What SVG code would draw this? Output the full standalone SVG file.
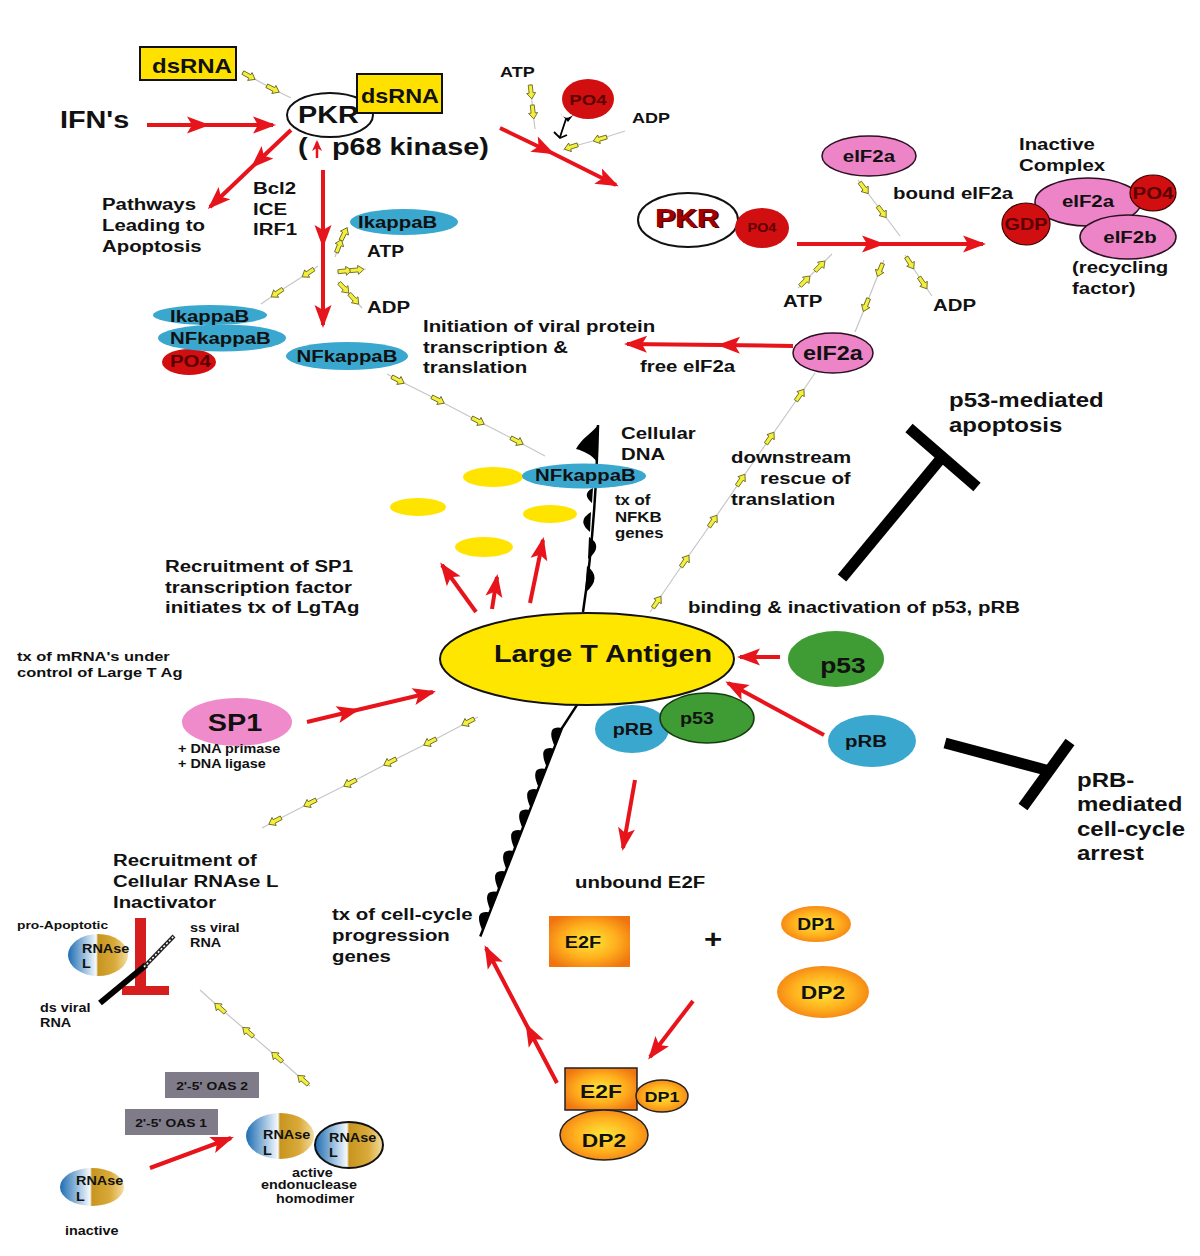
<svg xmlns="http://www.w3.org/2000/svg" width="1200" height="1256" viewBox="0 0 1200 1256">
<defs>
<style>
.t{font-family:"Liberation Sans",Arial,Helvetica,sans-serif;font-weight:bold;fill:#111;transform-box:fill-box;transform-origin:0 0;transform:scaleX(1.2)}
.c{text-anchor:middle;transform-origin:50% 50%}
.dr{fill:#5C0000}
.pkt{fill:#A00000}
.ra{fill:none;stroke:#E8141B;stroke-width:4;marker-end:url(#rh);marker-mid:url(#rh)}
.dl{fill:none;stroke:#C6C6C6;stroke-width:1.2;marker-mid:url(#ya)}
.tb{fill:none;stroke:#000;stroke-width:11}
.blue{fill:#3AA7CF}
.pink{fill:#EE84C8;stroke:#2B1022;stroke-width:1.5}
.pink2{fill:#F08BCB}
.red{fill:#D10F10}
.grn{fill:#3F9B33}
.yel{fill:#FFE400}
.rn{fill:url(#rng)}
.og{fill:url(#org)}
.oas{fill:#7F7B88}
</style>
<marker id="rh" viewBox="-22 -10 26 20" refX="0" refY="0" markerWidth="26" markerHeight="20" markerUnits="userSpaceOnUse" orient="auto"><path d="M3,0 L-20,-8.5 L-15,0 L-20,8.5 Z" fill="#E8141B"/></marker>
<marker id="rhs" viewBox="-12 -6 14 12" refX="0" refY="0" markerWidth="14" markerHeight="12" markerUnits="userSpaceOnUse" orient="auto"><path d="M2,0 L-9,-5 L-6,0 L-9,5 Z" fill="#E8141B"/></marker>
<marker id="ya" viewBox="-8 -5 16 10" refX="0" refY="0" markerWidth="16" markerHeight="10" markerUnits="userSpaceOnUse" orient="auto"><path d="M7,0 L1,-4.5 L1,-2 L-7,-2 L-7,2 L1,2 L1,4.5 Z" fill="#F3EF3C" stroke="#5E5E1E" stroke-width="0.8"/></marker>
<linearGradient id="rng" x1="0" y1="0" x2="1" y2="0"><stop offset="0" stop-color="#1E6DB3"/><stop offset="0.47" stop-color="#F5F9FD"/><stop offset="0.5" stop-color="#C7951F"/><stop offset="0.78" stop-color="#D9AA3A"/><stop offset="1" stop-color="#F4DDA0"/></linearGradient>
<radialGradient id="org" cx="0.5" cy="0.5" r="0.6"><stop offset="0" stop-color="#FFE83A"/><stop offset="0.55" stop-color="#FFB01E"/><stop offset="1" stop-color="#F07510"/></radialGradient>
</defs>
<rect width="1200" height="1256" fill="#fff"/>

<g id="dna">
<path d="M598,425 C597,470 594,540 583,612" fill="none" stroke="#000" stroke-width="2.5"/>
<path d="M598,425 C592,433 581,439 576,449 C584,451 592,455 597,462 Z" fill="#000"/>
<path d="M593,488 Q581,494 592,503 Z M591,512 Q576,521 590,532 Z M589,537 Q604,546 588,559 Z M587,566 Q603,578 585,593 Z" fill="#000"/>
<g transform="translate(562,728) rotate(21.4)">
<path d="M5.6,-27 L0,0 L0,224" fill="none" stroke="#000" stroke-width="2.5"/>
<path d="M0,0 q-17,3 0,20 z M0,22 q-17,3 0,20 z M0,44 q-17,3 0,20 z M0,66 q-17,3 0,20 z M0,88 q-17,3 0,20 z M0,110 q-17,3 0,20 z M0,132 q-17,3 0,20 z M0,154 q-17,3 0,20 z M0,176 q-17,3 0,20 z M0,198 q-17,3 0,20 z" fill="#000"/>
</g>
</g>

<g id="connectors">
<polyline class="ra" points="147,125 207,125 273,125"/>
<polyline class="ra" points="291,130 253,166 210,207"/>
<polyline class="ra" points="323,170 323,245 323,325"/>
<polyline class="ra" points="500,128 552,153 616,185"/>
<polyline class="ra" points="797,244 882,244 983,244"/>
<polyline class="ra" points="793,346 720,345 627,344"/>
<polyline class="ra" points="476,612 442,565"/>
<polyline class="ra" points="492,609 497,577"/>
<polyline class="ra" points="530,603 543,540"/>
<polyline class="ra" points="307,722 357,710 433,692"/>
<polyline class="ra" points="780,657 740,657"/>
<polyline class="ra" points="824,735 728,683"/>
<polyline class="ra" points="635,780 623,848"/>
<polyline class="ra" points="693,1001 650,1057"/>
<polyline class="ra" points="557,1083 527,1026 486,948"/>
<polyline class="ra" points="150,1168 231,1138"/>
<line x1="317" y1="158" x2="317" y2="142" stroke="#E8141B" stroke-width="2.5" marker-end="url(#rhs)"/>

<polyline class="dl" points="242,72 249,76 273,89 291,98"/>
<polyline class="dl" points="530,84 531,92 533,112 535,129"/>
<polyline class="dl" points="625,131 600,139 571,147 563,150"/>
<polyline class="dl" points="335,257 339,246 344,234 348,227"/>
<polyline class="dl" points="337,272 345,271 357,270 366,269"/>
<polyline class="dl" points="338,282 344,288 354,299 362,308"/>
<polyline class="dl" points="318,266 308,273 277,293 261,304"/>
<polyline class="dl" points="387,374 398,380 438,400 478,421 517,441 545,456"/>
<polyline class="dl" points="858,180 864,188 882,212 900,236"/>
<polyline class="dl" points="798,288 805,281 820,266 832,254"/>
<polyline class="dl" points="884,260 880,270 866,305 855,332"/>
<polyline class="dl" points="905,255 910,263 923,283 932,296"/>
<polyline class="dl" points="650,612 657,602 685,561 713,521 741,480 770,438 800,395 815,373"/>
<polyline class="dl" points="478,717 468,722 430,742 390,762 350,783 310,803 275,821 262,828"/>
<polyline class="dl" points="310,1086 303,1080 277,1057 248,1032 220,1008 200,990"/>

<path d="M566,119 L560,137" stroke="#000" stroke-width="1.8" fill="none"/>
<path d="M560,113 Q566,122 574,114 L568,122 Z" fill="#000"/>
<path d="M554,132 L560,138 L567,135" stroke="#000" stroke-width="1.8" fill="none"/>

<line class="tb" x1="842" y1="578" x2="943" y2="456"/>
<line class="tb" x1="909" y1="428" x2="977" y2="487"/>
<line class="tb" x1="945" y1="743" x2="1046" y2="770"/>
<line class="tb" x1="1070" y1="742" x2="1023" y2="807"/>
</g>

<g id="dsRNA1"><rect x="140" y="47" width="96" height="33" fill="#FFE100" stroke="#111" stroke-width="2"/><text class="t" x="152" y="73" font-size="20">dsRNA</text></g>
<g id="PKR"><ellipse cx="330" cy="115" rx="43" ry="22" fill="#fff" stroke="#111" stroke-width="2"/><text class="t" x="298" y="123" font-size="24">PKR</text></g>
<g id="dsRNA2"><rect x="357" y="74" width="85" height="39" fill="#FFE100" stroke="#111" stroke-width="2"/><text class="t" x="361" y="103" font-size="19.5">dsRNA</text></g>

<g id="IkappaB1"><ellipse class="blue" cx="404" cy="222" rx="54" ry="13"/><text class="t" x="358" y="228" font-size="17">IkappaB</text></g>
<g id="IkBcomplex">
<ellipse class="blue" cx="210" cy="315" rx="57" ry="10"/>
<ellipse class="red" cx="189" cy="362" rx="27" ry="13"/>
<ellipse class="blue" cx="222" cy="338" rx="64" ry="13.5"/>
<text class="t" x="170" y="322" font-size="17">IkappaB</text>
<text class="t" x="170" y="344" font-size="17">NFkappaB</text>
<text class="t dr" x="170" y="367" font-size="17">PO4</text>
</g>
<g id="NFkappaB1"><ellipse class="blue" cx="347" cy="356" rx="61" ry="14"/><text class="t c" x="347" y="362" font-size="17">NFkappaB</text></g>

<g id="PO4top"><ellipse class="red" cx="588" cy="99" rx="26" ry="20"/><text class="t c dr" x="588" y="105" font-size="15.5">PO4</text></g>
<g id="PKRp">
<ellipse cx="688" cy="220" rx="50" ry="27" fill="#fff" stroke="#111" stroke-width="2"/>
<ellipse class="red" cx="762" cy="228" rx="27" ry="20"/>
<text class="t dr" x="657" y="228" font-size="25">PKR</text>
<text class="t pkt" x="655" y="227" font-size="25">PKR</text>
<text class="t c dr" x="762" y="232" font-size="12">PO4</text>
</g>
<g id="eIF2a-top"><ellipse class="pink" cx="869" cy="156" rx="47" ry="20"/><text class="t c" x="869" y="162" font-size="17">eIF2a</text></g>
<g id="inactive-complex">
<ellipse class="pink" cx="1088" cy="202" rx="53" ry="24"/>
<ellipse class="pink" cx="1128" cy="237" rx="48" ry="22"/>
<ellipse class="red" cx="1026" cy="224" rx="24" ry="21" stroke="#3a0000" stroke-width="1.2"/>
<ellipse class="red" cx="1153" cy="193" rx="23" ry="18" stroke="#3a0000" stroke-width="1.2"/>
<text class="t c" x="1088" y="207" font-size="17">eIF2a</text>
<text class="t c" x="1130" y="243" font-size="17">eIF2b</text>
<text class="t c dr" x="1026" y="230" font-size="16.5">GDP</text>
<text class="t c dr" x="1153" y="199" font-size="17">PO4</text>
</g>
<g id="eIF2a-free"><ellipse class="pink" cx="833" cy="353" rx="40" ry="20"/><text class="t c" x="833" y="360" font-size="19.5">eIF2a</text></g>

<g id="NFkB-yellow">
<ellipse class="yel" cx="493" cy="477" rx="30" ry="10"/>
<ellipse class="yel" cx="418" cy="507" rx="28" ry="9"/>
<ellipse class="yel" cx="550" cy="514" rx="27" ry="9"/>
<ellipse class="yel" cx="484" cy="547" rx="29" ry="10"/>
</g>
<g id="NFkappaB2"><ellipse class="blue" cx="584" cy="476" rx="62" ry="12.5"/><text class="t" x="535" y="481" font-size="17">NFkappaB</text></g>

<g id="LargeT"><ellipse cx="587" cy="659" rx="147" ry="46" fill="#FFE600" stroke="#111" stroke-width="2"/><text class="t c" x="603" y="662" font-size="24">Large T Antigen</text></g>
<g id="pRB-p53">
<ellipse class="blue" cx="632" cy="729" rx="37" ry="24"/>
<ellipse class="grn" cx="707" cy="718" rx="47" ry="25" stroke="#163d10" stroke-width="1.5"/>
<text class="t c" x="633" y="735" font-size="16.5">pRB</text>
<text class="t c" x="697" y="724" font-size="16.5">p53</text>
</g>
<g id="p53"><ellipse class="grn" cx="836" cy="659" rx="48" ry="28"/><text class="t c" x="843" y="673" font-size="22">p53</text></g>
<g id="pRB"><ellipse class="blue" cx="872" cy="741" rx="44" ry="26"/><text class="t c" x="866" y="747" font-size="17">pRB</text></g>
<g id="SP1"><ellipse class="pink2" cx="237" cy="722" rx="55" ry="24"/><text class="t c" x="235" y="731" font-size="24">SP1</text></g>

<g id="E2F"><rect class="og" x="549" y="916" width="81" height="51"/><text class="t c" x="583" y="948" font-size="16.5">E2F</text></g>
<g id="DP1"><ellipse class="og" cx="816" cy="924" rx="35" ry="18"/><text class="t c" x="816" y="930" font-size="16">DP1</text></g>
<g id="DP2"><ellipse class="og" cx="823" cy="992" rx="46" ry="26"/><text class="t c" x="823" y="999" font-size="19">DP2</text></g>
<g id="E2F-complex">
<rect class="og" x="565" y="1068" width="72" height="42" stroke="#222" stroke-width="1.5"/>
<ellipse class="og" cx="662" cy="1096" rx="26" ry="16" stroke="#222" stroke-width="1.5"/>
<ellipse class="og" cx="604" cy="1135" rx="44" ry="25" stroke="#222" stroke-width="1.5"/>
<text class="t c" x="601" y="1098" font-size="19">E2F</text>
<text class="t c" x="662" y="1102" font-size="15">DP1</text>
<text class="t c" x="604" y="1147" font-size="19">DP2</text>
</g>

<g id="RNAse-inhibit">
<rect x="135" y="918" width="11" height="75" fill="#D61E1E"/>
<rect x="122" y="986" width="47" height="9" fill="#D61E1E"/>
</g>
<g id="RNAseL-proapoptotic"><ellipse class="rn" cx="98" cy="955" rx="30" ry="21"/><text class="t" x="82" y="953" font-size="12">RNAse</text><text class="t" x="82" y="968" font-size="12">L</text></g>
<g id="viralRNA">
<line x1="100" y1="1003" x2="146" y2="965" stroke="#000" stroke-width="6"/>
<line x1="144" y1="967" x2="174" y2="936" stroke="#222" stroke-width="4"/>
<line x1="144" y1="967" x2="174" y2="936" stroke="#fff" stroke-width="1.5" stroke-dasharray="2 2"/>
</g>
<g id="OAS2"><rect class="oas" x="165" y="1072" width="94" height="26"/><text class="t c" x="212" y="1090" font-size="11.5">2'-5' OAS 2</text></g>
<g id="OAS1"><rect class="oas" x="125" y="1109" width="93" height="26"/><text class="t c" x="171" y="1127" font-size="11.5">2'-5' OAS 1</text></g>
<g id="RNAseL-inactive"><ellipse class="rn" cx="92" cy="1187" rx="32" ry="19"/><text class="t" x="76" y="1185" font-size="12">RNAse</text><text class="t" x="76" y="1201" font-size="12">L</text></g>
<g id="RNAseL-active">
<ellipse class="rn" cx="280" cy="1136" rx="34" ry="23"/>
<ellipse class="rn" cx="349" cy="1145" rx="34" ry="23" stroke="#111" stroke-width="2"/>
<text class="t" x="263" y="1139" font-size="12">RNAse</text><text class="t" x="263" y="1155" font-size="12">L</text>
<text class="t" x="329" y="1142" font-size="12">RNAse</text><text class="t" x="329" y="1157" font-size="12">L</text>
</g>

<g id="labels">
<text class="t" x="60" y="128" font-size="24">IFN's</text>
<text class="t" x="298" y="155" font-size="24">(</text>
<text class="t" x="332" y="155" font-size="24">p68 kinase)</text>
<text class="t" x="102" y="210" font-size="17">Pathways</text>
<text class="t" x="102" y="231" font-size="17">Leading to</text>
<text class="t" x="102" y="252" font-size="17">Apoptosis</text>
<text class="t" x="253" y="194" font-size="17">Bcl2</text>
<text class="t" x="253" y="215" font-size="17">ICE</text>
<text class="t" x="253" y="235" font-size="17">IRF1</text>
<text class="t" x="367" y="257" font-size="16">ATP</text>
<text class="t" x="367" y="313" font-size="17">ADP</text>
<text class="t" x="423" y="332" font-size="17">Initiation of viral protein</text>
<text class="t" x="423" y="353" font-size="17">transcription &amp;</text>
<text class="t" x="423" y="373" font-size="17">translation</text>
<text class="t" x="500" y="77" font-size="15">ATP</text>
<text class="t" x="632" y="123" font-size="15">ADP</text>
<text class="t" x="893" y="199" font-size="17">bound eIF2a</text>
<text class="t" x="1019" y="150" font-size="17">Inactive</text>
<text class="t" x="1019" y="171" font-size="17">Complex</text>
<text class="t" x="1072" y="273" font-size="17">(recycling</text>
<text class="t" x="1072" y="294" font-size="17">factor)</text>
<text class="t" x="783" y="307" font-size="17">ATP</text>
<text class="t" x="933" y="311" font-size="17">ADP</text>
<text class="t" x="640" y="372" font-size="17">free eIF2a</text>
<text class="t" x="621" y="439" font-size="17">Cellular</text>
<text class="t" x="621" y="460" font-size="17">DNA</text>
<text class="t" x="615" y="505" font-size="14">tx of</text>
<text class="t" x="615" y="522" font-size="14">NFKB</text>
<text class="t" x="615" y="538" font-size="14">genes</text>
<text class="t" x="731" y="463" font-size="17">downstream</text>
<text class="t" x="760" y="484" font-size="17">rescue of</text>
<text class="t" x="731" y="505" font-size="17">translation</text>
<text class="t" x="949" y="407" font-size="20">p53-mediated</text>
<text class="t" x="949" y="432" font-size="20">apoptosis</text>
<text class="t" x="165" y="572" font-size="17">Recruitment of SP1</text>
<text class="t" x="165" y="593" font-size="17">transcription factor</text>
<text class="t" x="165" y="613" font-size="17">initiates tx of LgTAg</text>
<text class="t" x="688" y="613" font-size="17">binding &amp; inactivation of p53, pRB</text>
<text class="t" x="17" y="661" font-size="13.7">tx of mRNA's under</text>
<text class="t" x="17" y="677" font-size="13.7">control of Large T Ag</text>
<text class="t" x="178" y="753" font-size="12">+ DNA primase</text>
<text class="t" x="178" y="768" font-size="12">+ DNA ligase</text>
<text class="t" x="1077" y="787" font-size="20">pRB-</text>
<text class="t" x="1077" y="811" font-size="20">mediated</text>
<text class="t" x="1077" y="836" font-size="20">cell-cycle</text>
<text class="t" x="1077" y="860" font-size="20">arrest</text>
<text class="t" x="575" y="888" font-size="17">unbound E2F</text>
<text class="t" x="704" y="948" font-size="26">+</text>
<text class="t" x="332" y="920" font-size="17">tx of cell-cycle</text>
<text class="t" x="332" y="941" font-size="17">progression</text>
<text class="t" x="332" y="962" font-size="17">genes</text>
<text class="t" x="113" y="866" font-size="17">Recruitment of</text>
<text class="t" x="113" y="887" font-size="17">Cellular RNAse L</text>
<text class="t" x="113" y="908" font-size="17">Inactivator</text>
<text class="t" x="17" y="929" font-size="11.5">pro-Apoptotic</text>
<text class="t" x="190" y="932" font-size="12">ss viral</text>
<text class="t" x="190" y="947" font-size="12">RNA</text>
<text class="t" x="40" y="1012" font-size="12">ds viral</text>
<text class="t" x="40" y="1027" font-size="12">RNA</text>
<text class="t" x="65" y="1235" font-size="12">inactive</text>
<text class="t" x="292" y="1177" font-size="12">active</text>
<text class="t" x="261" y="1189" font-size="12">endonuclease</text>
<text class="t" x="276" y="1203" font-size="12">homodimer</text>
</g>
</svg>
